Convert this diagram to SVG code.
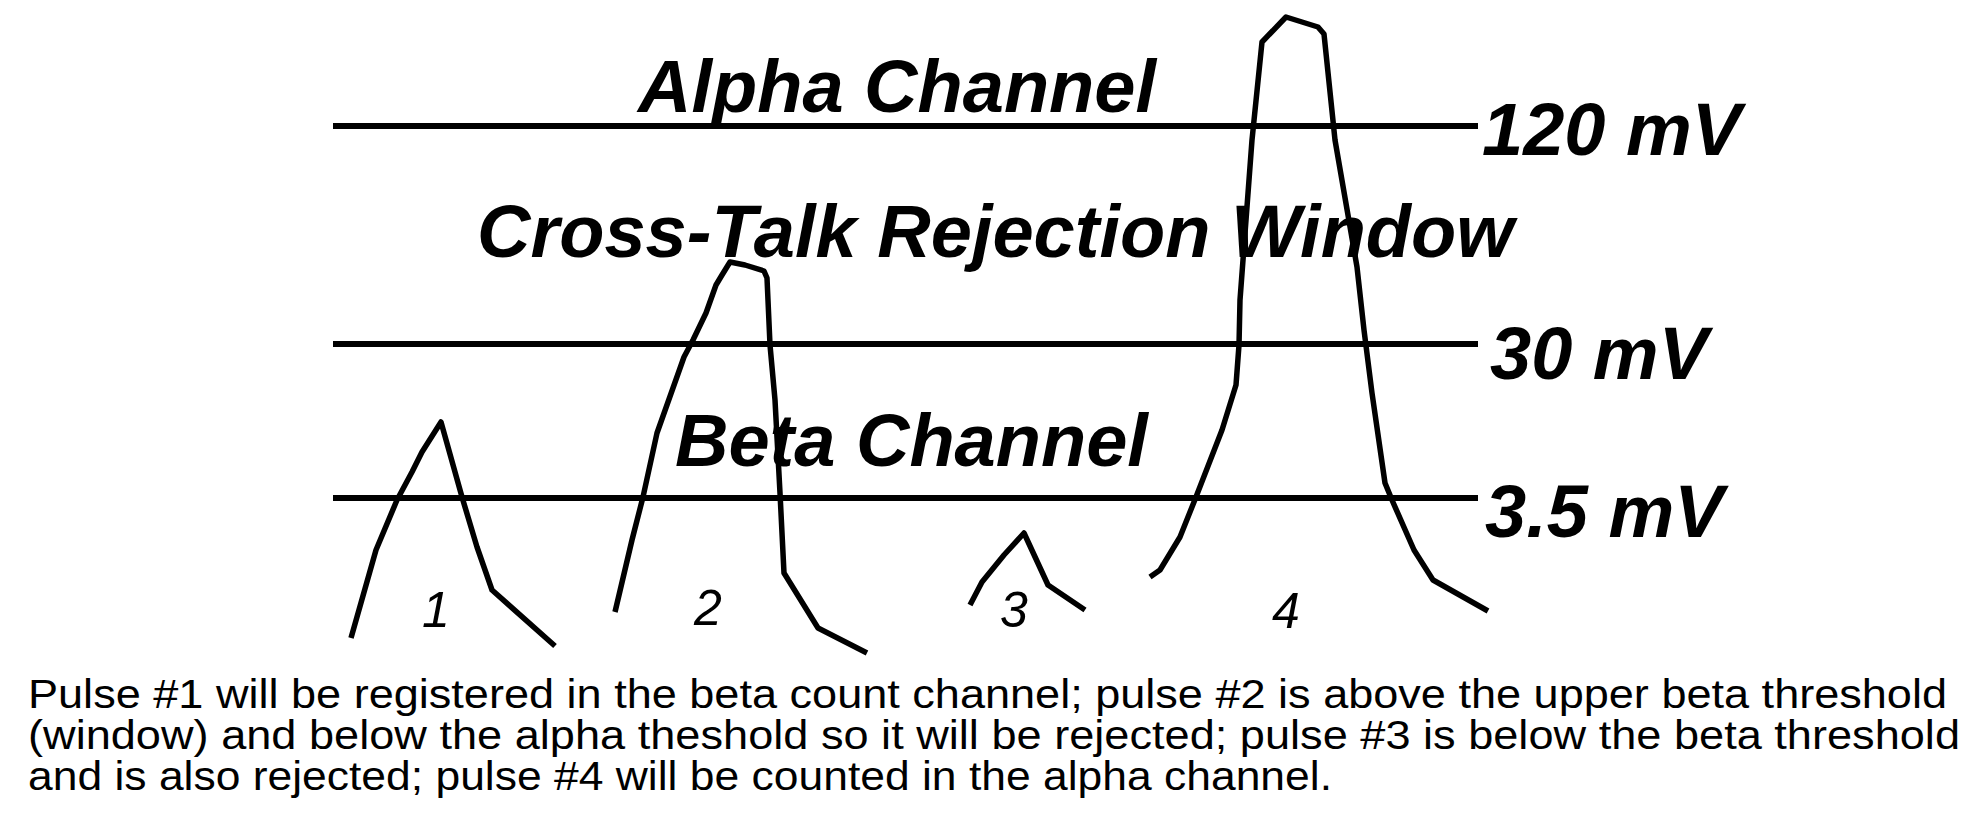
<svg xmlns="http://www.w3.org/2000/svg" width="1985" height="823" viewBox="0 0 1985 823">
<style>
.lvl{stroke:#000;stroke-width:6;fill:none}
.pulse{stroke:#000;stroke-width:5.5;fill:none;stroke-linejoin:round;stroke-linecap:butt}
.big{font-family:"Liberation Sans",Arial,sans-serif;font-weight:bold;font-style:italic;font-size:74px;fill:#000}
.num{font-family:"Liberation Sans",Arial,sans-serif;font-style:italic;font-size:50px;fill:#000}
.cap{font-family:"Liberation Sans",Arial,sans-serif;font-size:40px;fill:#000}
</style>
<rect width="1985" height="823" fill="#fff"/>
<g id="thresholds">
<line class="lvl" x1="333" y1="126" x2="1478" y2="126"/>
<line class="lvl" x1="333" y1="344" x2="1478" y2="344"/>
<line class="lvl" x1="333" y1="498" x2="1478" y2="498"/>
</g>
<g id="labels">
<text class="big" x="638" y="112">Alpha Channel</text>
<text class="big" x="477" y="257">Cross-Talk Rejection Window</text>
<text class="big" x="675" y="466">Beta Channel</text>
<text class="big" x="1482" y="155">120 mV</text>
<text class="big" x="1490" y="379">30 mV</text>
<text class="big" x="1485" y="537">3.5 mV</text>
</g>
<g id="pulses">
<polyline id="pulse1" class="pulse" points="351,638 376,550 397,500 412,472 422,452 441,422 462,497 477,547 492,590 555,646"/>
<polyline id="pulse2" class="pulse" points="615,612 632,540 643,497 657,433 684,357 693,340 706,313 716,285 722,275 730,262 745,265 764,271 767,278 770,345 775,400 780,493 784,573 818,628 867,653"/>
<polyline id="pulse3" class="pulse" points="970,605 982,582 1004,555 1024,533 1048,585 1085,610"/>
<polyline id="pulse4" class="pulse" points="1150,577 1160,570 1180,537 1196,497 1222,430 1236,385 1239,345 1240,300 1252,140 1262,42 1286,17 1318,27 1324,34 1335,140 1357,267 1364,330 1372,393 1385,483 1392,500 1414,550 1433,580 1488,611"/>
</g>
<g id="pulse-numbers">
<text class="num" x="422" y="627">1</text>
<text class="num" x="694" y="625">2</text>
<text class="num" x="1000" y="627">3</text>
<text class="num" x="1272" y="628">4</text>
</g>
<g id="caption">
<text class="cap" x="28" y="708" textLength="1919" lengthAdjust="spacingAndGlyphs">Pulse #1 will be registered in the beta count channel; pulse #2 is above the upper beta threshold</text>
<text class="cap" x="28" y="749" textLength="1932" lengthAdjust="spacingAndGlyphs">(window) and below the alpha theshold so it will be rejected; pulse #3 is below the beta threshold</text>
<text class="cap" x="28" y="790" textLength="1304" lengthAdjust="spacingAndGlyphs">and is also rejected; pulse #4 will be counted in the alpha channel.</text>
</g>
</svg>
